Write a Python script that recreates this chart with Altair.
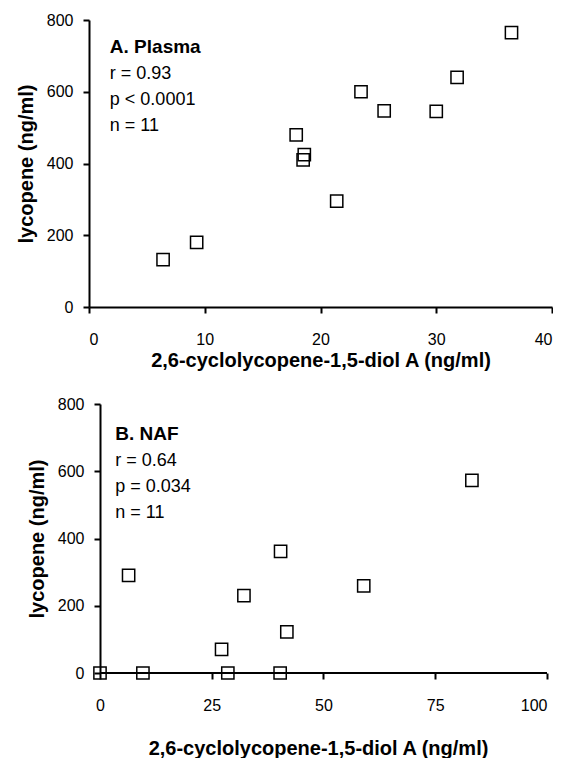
import altair as alt
import pandas as pd

# ---- data ----
plasma_diol = [6.4, 9.3, 17.9, 18.6, 18.5, 21.4, 23.5, 25.5, 30.0, 31.8, 36.5]
plasma_lyc = [132, 180, 480, 425, 410, 295, 600, 547, 545, 640, 765]

naf_diol = [0, 9.6, 6.4, 27.2, 28.6, 32.2, 40.4, 41.8, 40.3, 59.0, 83.2]
naf_lyc = [0, 0, 290, 70, 0, 230, 362, 122, 0, 259, 573]

plasma_head = "A. Plasma"
plasma_stats = ["r = 0.93", "p < 0.0001", "n = 11"]
naf_head = "B. NAF"
naf_stats = ["r = 0.64", "p = 0.034", "n = 11"]

x_title = "2,6-cyclolycopene-1,5-diol A (ng/ml)"
y_title = "lycopene (ng/ml)"

plasma_xticks = [0, 10, 20, 30, 40]
naf_xticks = [0, 25, 50, 75, 100]
yticks = [0, 200, 400, 600, 800]

FONT = "Liberation Sans"

plasma = pd.DataFrame({"x": plasma_diol, "y": plasma_lyc})
naf = pd.DataFrame({"x": naf_diol, "y": naf_lyc})

square = dict(shape="square", size=150, filled=False, stroke="black",
              strokeWidth=1.5, opacity=1)

# ---------- top panel ----------
xs_top = alt.Scale(domain=[0, 40], nice=False, zero=False)
ys_top = alt.Scale(domain=[0, 800], nice=False)

top_pts = alt.Chart(plasma).mark_point(**square).encode(
    x=alt.X("x:Q", scale=xs_top,
            axis=alt.Axis(values=plasma_xticks, title=x_title, titlePadding=3,
                          labelPadding=18)),
    y=alt.Y("y:Q", scale=ys_top,
            axis=alt.Axis(values=yticks, title=y_title, titlePadding=10)),
)
top_head = alt.Chart().mark_text(
    text=plasma_head, font=FONT, fontSize=19, fontWeight="bold",
    align="left", baseline="alphabetic", color="black"
).encode(x=alt.datum(1.8), y=alt.datum(708))
top_stats = alt.Chart().mark_text(
    text=plasma_stats, font=FONT, fontSize=18, lineHeight=26, dy=26,
    align="left", baseline="alphabetic", color="black"
).encode(x=alt.datum(1.8), y=alt.datum(708))

top = alt.layer(top_pts, top_head, top_stats).properties(width=463, height=287)

# ---------- bottom panel ----------
xs_bot = alt.Scale(domain=[-2.46, 100], nice=False, zero=False)
ys_bot = alt.Scale(domain=[0, 800], nice=False)

bot_pts = alt.Chart(naf).mark_point(**square).encode(
    x=alt.X("x:Q", scale=xs_bot,
            axis=alt.Axis(values=naf_xticks, title=x_title, domain=False,
                          titlePadding=25, labelPadding=18)),
    y=alt.Y("y:Q", scale=ys_bot,
            axis=alt.Axis(values=yticks, title=y_title, offset=-11,
                          titlePadding=10)),
)
bot_axis = alt.Chart().mark_rule(color="black", strokeWidth=2).encode(
    x=alt.datum(0), x2=alt.datum(100), y=alt.datum(0)
)
bot_head = alt.Chart().mark_text(
    text=naf_head, font=FONT, fontSize=19, fontWeight="bold",
    align="left", baseline="alphabetic", color="black"
).encode(x=alt.datum(3.4), y=alt.datum(694))
bot_stats = alt.Chart().mark_text(
    text=naf_stats, font=FONT, fontSize=18, lineHeight=26, dy=26,
    align="left", baseline="alphabetic", color="black"
).encode(x=alt.datum(3.4), y=alt.datum(694))

bottom = alt.layer(bot_axis, bot_pts, bot_head, bot_stats).properties(
    width=458, height=269)

chart = alt.vconcat(top, bottom, spacing=26).properties(
    padding={"left": 16, "top": 12, "right": 0, "bottom": 0},
    background="white",
).configure_view(stroke=None).configure_axis(
    grid=False,
    domainColor="black", domainWidth=2,
    tickColor="black", tickWidth=2, tickSize=6,
    labelFont=FONT, labelFontSize=16, labelColor="black", labelPadding=10,
    titleFont=FONT, titleFontSize=20, titleFontWeight="bold", titleColor="black",
)

chart.save("out.html", embed_options={"renderer": "svg", "actions": False})
